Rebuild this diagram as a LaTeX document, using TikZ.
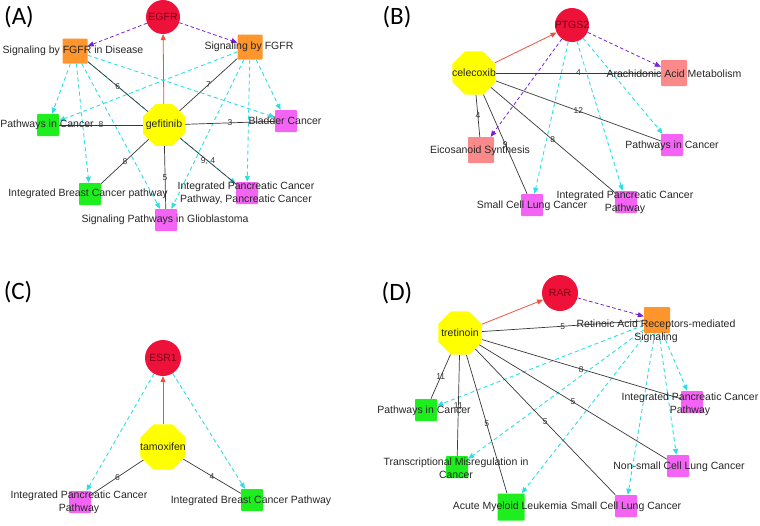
\documentclass[tikz,border=0pt]{standalone}
\usepackage{fontspec}
\setmainfont{Liberation Sans}
\newfontfamily\panelfont{Carlito}
\usetikzlibrary{shapes.geometric,arrows.meta}

\definecolor{tgtred}{RGB}{238,18,58}
\definecolor{tgttext}{RGB}{125,0,25}
\definecolor{drugyellow}{RGB}{255,255,0}
\definecolor{sigorange}{RGB}{255,150,45}
\definecolor{dgreen}{RGB}{30,238,30}
\definecolor{dmagenta}{RGB}{244,100,244}
\definecolor{dsalmon}{RGB}{250,138,138}
\definecolor{edgecyan}{RGB}{45,222,230}
\definecolor{edgepurple}{RGB}{120,30,225}
\definecolor{edgered}{RGB}{240,80,60}
\definecolor{edgegray}{RGB}{55,55,55}

\pgfdeclarelayer{bg}
\pgfsetlayers{bg,main}

\tikzset{
  target/.style={circle, fill=tgtred, minimum size=34pt, inner sep=0pt},
  drug/.style={regular polygon, regular polygon sides=8, fill=drugyellow, minimum size=47pt, inner sep=0pt},
  pwbox/.style={rectangle, rounded corners=0.8pt, minimum size=22pt, inner sep=0pt},
  txt/.style={font=\fontsize{10.5}{13}\selectfont, text=black!85, align=center, inner sep=0pt},
  tgttxt/.style={font=\fontsize{10.5}{13}\selectfont, text=tgttext, inner sep=0pt},
  num/.style={font=\fontsize{8.5}{9}\selectfont, text=black!80, inner sep=0pt},
  panel/.style={font=\panelfont\fontsize{25}{28}\selectfont, inner sep=0pt},
  binds/.style={-{Triangle[length=6pt,width=5pt]}, edgered, line width=0.8pt},
  hits/.style={-{Triangle[length=6pt,width=5pt]}, edgepurple, line width=0.8pt, dash pattern=on 3.5pt off 2.5pt},
  leads/.style={-{Triangle[length=6pt,width=5pt]}, edgecyan, line width=0.9pt, dash pattern=on 4pt off 3pt},
  shares/.style={edgegray, line width=0.7pt}
}

\begin{document}
\begin{tikzpicture}[x=1pt, y=-1pt]
  \useasboundingbox (0,0) rectangle (760,525);

  % Panel letters
  \node[panel] (la) at (19,17) {(A)};
  \node[panel] (lb) at (397,17) {(B)};
  \node[panel] (lc) at (18,292) {(C)};
  \node[panel] (ld) at (397,293) {(D)};

  % (A) gefitinib
  \node[target, label={[tgttxt]center:EGFR}] (egfr) at (163,17) {};
  \node[drug, minimum size=45pt, label={[txt]center:gefitinib}] (gef) at (164,125) {};
  \node[pwbox, fill=sigorange, minimum size=25pt] (sfd) at (75,51) {};
  \node[pwbox, fill=sigorange, minimum size=25pt] (sfg) at (250,47) {};
  \node[pwbox, fill=dgreen] (pica) at (48,125) {};
  \node[pwbox, fill=dmagenta] (bla) at (286,121) {};
  \node[pwbox, fill=dgreen] (ibca) at (90,194) {};
  \node[pwbox, fill=dmagenta] (glio) at (166,220) {};
  \node[pwbox, fill=dmagenta] (ipca) at (247,193) {};

  \node[txt] (tsfd) at (73,51) {Signaling by FGFR in Disease};
  \node[txt] (tsfg) at (249,47) {Signaling by FGFR};
  \node[txt] (tpica) at (47,125) {Pathways in Cancer};
  \node[txt] (tbla) at (285,121) {Bladder Cancer};
  \node[txt] (tibca) at (88,194) {Integrated Breast Cancer pathway};
  \node[txt] (tglio) at (165,220) {Signaling Pathways in Glioblastoma};
  \node[txt] (tipca) at (246,193.5) {Integrated Pancreatic Cancer\\Pathway, Pancreatic Cancer};

  % (B) celecoxib
  \node[target, label={[tgttxt]center:PTGS2}] (ptgs) at (572,25) {};
  \node[drug, label={[txt]center:celecoxib}] (cel) at (474,73) {};
  \node[pwbox, fill=dsalmon, minimum size=26pt] (ara) at (674,73) {};
  \node[pwbox, fill=dmagenta] (picb) at (672,145) {};
  \node[pwbox, fill=dsalmon, minimum size=26pt] (eic) at (481,150) {};
  \node[pwbox, fill=dmagenta] (sclb) at (532,205) {};
  \node[pwbox, fill=dmagenta] (ipcb) at (626,202) {};

  \node[txt] (tara) at (674,74) {Arachidonic Acid Metabolism};
  \node[txt] (tpicb) at (672,146) {Pathways in Cancer};
  \node[txt] (teic) at (480,151) {Eicosanoid Synthesis};
  \node[txt] (tsclb) at (532,206) {Small Cell Lung Cancer};
  \node[txt] (tipcb) at (625,202) {Integrated Pancreatic Cancer\\Pathway};

  % (C) tamoxifen
  \node[target, minimum size=36pt, label={[tgttxt]center:ESR1}] (esr) at (163,358) {};
  \node[drug, minimum size=49pt, label={[txt]center:tamoxifen}] (tam) at (163,447) {};
  \node[pwbox, fill=dmagenta] (ipcc) at (80,502) {};
  \node[pwbox, fill=dgreen] (ibcc) at (252,500) {};

  \node[txt] (tipcc) at (79,502.5) {Integrated Pancreatic Cancer\\Pathway};
  \node[txt] (tibcc) at (251,501) {Integrated Breast Cancer Pathway};

  % (D) tretinoin
  \node[target, minimum size=36pt, label={[tgttxt]center:RAR}] (rar) at (560,293) {};
  \node[drug, label={[txt]center:tretinoin}] (tre) at (460,333) {};
  \node[pwbox, fill=sigorange, minimum size=26pt] (ret) at (657,320) {};
  \node[pwbox, fill=dmagenta] (ipcd) at (692,402) {};
  \node[pwbox, fill=dgreen] (picd) at (426,410) {};
  \node[pwbox, fill=dgreen] (tmc) at (457,467) {};
  \node[pwbox, fill=dgreen, minimum size=27pt] (aml) at (511,507) {};
  \node[pwbox, fill=dmagenta] (scld) at (626,506) {};
  \node[pwbox, fill=dmagenta] (nsc) at (678,466) {};

  \node[txt] (tret) at (656,331.5) {Retinoic Acid Receptors-mediated\\Signaling};
  \node[txt] (tipcd) at (690,404) {Integrated Pancreatic Cancer\\Pathway};
  \node[txt] (tpicd) at (424,411) {Pathways in Cancer};
  \node[txt] (ttmc) at (456,468.5) {Transcriptional Misregulation in\\Cancer};
  \node[txt] (taml) at (510,507) {Acute Myeloid Leukemia};
  \node[txt] (tscld) at (626,507) {Small Cell Lung Cancer};
  \node[txt] (tnsc) at (679,467) {Non-small Cell Lung Cancer};

  \begin{pgfonlayer}{bg}
    % Edges of (A)
    \draw[binds] (gef) -- (egfr);
    \draw[hits] (egfr) -- (sfd);
    \draw[hits] (egfr) -- (sfg);
    \draw[leads] (sfd) -- (pica);
    \draw[leads] (sfd) -- (ibca);
    \draw[leads] (sfd) -- (glio);
    \draw[leads] (sfd) -- (ipca);
    \draw[leads] (sfd) -- (bla);
    \draw[leads] (sfg) -- (pica);
    \draw[leads] (sfg) -- (glio);
    \draw[leads] (sfg) -- (ipca);
    \draw[leads] (sfg) -- (bla);
    \draw[shares] (gef) -- node[num] {6} (sfd);
    \draw[shares] (gef) -- node[num] {7} (sfg);
    \draw[shares] (gef) -- node[num] {8} (pica);
    \draw[shares] (gef) -- node[num] {3} (bla);
    \draw[shares] (gef) -- node[num] {8} (ibca);
    \draw[shares] (gef) -- node[num] {5} (glio);
    \draw[shares] (gef) -- node[num] {9, 4} (ipca);

    % Edges of (B)
    \draw[binds] (cel) -- (ptgs);
    \draw[hits] (ptgs) -- (ara);
    \draw[hits] (ptgs) -- (eic);
    \draw[leads] (ptgs) -- (sclb);
    \draw[leads] (ptgs) -- (ipcb);
    \draw[leads] (ptgs) -- (picb);
    \draw[shares] (cel) -- node[num] {4} (ara);
    \draw[shares] (cel) -- node[num] {12} (picb);
    \draw[shares] (cel) -- node[num] {4} (eic);
    \draw[shares] (cel) -- node[num] {9} (sclb);
    \draw[shares] (cel) -- node[num] {8} (ipcb);

    % Edges of (C)
    \draw[binds] (tam) -- (esr);
    \draw[leads] (esr) -- (ipcc);
    \draw[leads] (esr) -- (ibcc);
    \draw[shares] (tam) -- node[num] {6} (ipcc);
    \draw[shares] (tam) -- node[num] {4} (ibcc);

    % Edges of (D)
    \draw[binds] (tre) -- (rar);
    \draw[hits] (rar) -- (ret);
    \draw[leads] (ret) -- (picd);
    \draw[leads] (ret) -- (tmc);
    \draw[leads] (ret) -- (aml);
    \draw[leads] (ret) -- (scld);
    \draw[leads] (ret) -- (nsc);
    \draw[leads] (ret) -- (ipcd);
    \draw[shares] (tre) -- node[num] {5} (ret);
    \draw[shares] (tre) -- node[num] {8} (ipcd);
    \draw[shares] (tre) -- node[num] {11} (picd);
    \draw[shares] (tre) -- node[num] {11} (tmc);
    \draw[shares] (tre) -- node[num] {5} (aml);
    \draw[shares] (tre) -- node[num] {5} (scld);
    \draw[shares] (tre) -- node[num] {5} (nsc);
  \end{pgfonlayer}

\end{tikzpicture}
\end{document}
